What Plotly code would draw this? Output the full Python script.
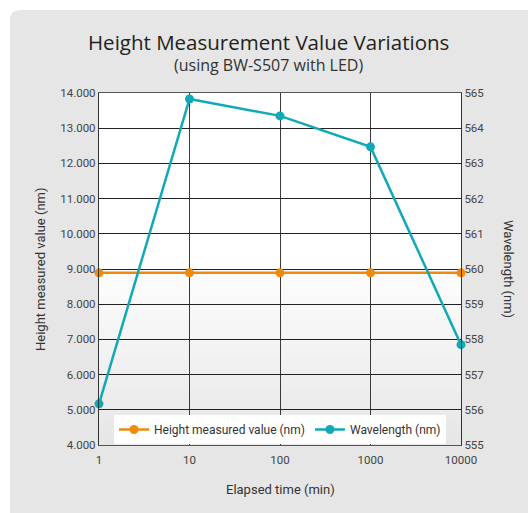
import plotly.graph_objects as go

# ---- data ----
elapsed_time = [1, 10, 100, 1000, 10000]
height_values = [8.89, 8.89, 8.89, 8.89, 8.89]
wavelength_values = [556.17, 564.83, 564.35, 563.47, 557.85]
left_ticks = [4, 5, 6, 7, 8, 9, 10, 11, 12, 13, 14]
left_tick_labels = ["4.000", "5.000", "6.000", "7.000", "8.000", "9.000",
                    "10.000", "11.000", "12.000", "13.000", "14.000"]
right_ticks = [555, 556, 557, 558, 559, 560, 561, 562, 563, 564, 565]
x_ticks = [1, 10, 100, 1000, 10000]
x_tick_labels = ["1", "10", "100", "1000", "10000"]

W, H = 528, 513
L, R, T, B = 99, 67, 93, 68
PW, PH = W - L - R, H - T - B

def px(x):
    return (x - L) / PW

def py(y):
    return (H - B - y) / PH

ORANGE = "#EF8A0B"
TEAL = "#10A9B8"
TICK_FONT = "Roboto, Liberation Sans, sans-serif"
TITLE_FONT = "Open Sans, Noto Sans, sans-serif"

fig = go.Figure()
fig.add_trace(go.Scatter(
    x=elapsed_time, y=height_values, name="Height measured value (nm)",
    mode="lines+markers", line=dict(color=ORANGE, width=2.5),
    marker=dict(color=ORANGE, size=9), cliponaxis=False, yaxis="y"))
fig.add_trace(go.Scatter(
    x=elapsed_time, y=wavelength_values, name="Wavelength (nm)",
    mode="lines+markers", line=dict(color=TEAL, width=2.5),
    marker=dict(color=TEAL, size=9), cliponaxis=False, yaxis="y2"))

shapes = []
# outer rounded grey panel
x0, y0, x1, y1, r = px(10), py(10), px(540), py(530), 10
rx, ry = r / PW, r / PH
shapes.append(dict(
    type="path", xref="paper", yref="paper", layer="below",
    path=(f"M {x0},{y0 - ry} Q {x0},{y0} {x0 + rx},{y0} L {x1},{y0} "
          f"L {x1},{y1} L {x0},{y1} Z"),
    fillcolor="#E5E6E5", line=dict(width=0)))
# plot area white background
shapes.append(dict(type="rect", xref="paper", yref="paper", layer="below",
                   x0=0, x1=1, y0=0, y1=1, fillcolor="white", line=dict(width=0)))
# gradient at bottom of plot area
n = 30
g_top = py(255)
for i in range(n):
    f0 = i / n
    f1 = (i + 1) / n
    t = 1 - (f0 + f1) / 2  # 1 at bottom
    c = int(round(255 - (255 - 230) * t))
    shapes.append(dict(type="rect", xref="paper", yref="paper", layer="below",
                       x0=0, x1=1, y0=g_top * f0, y1=g_top * f1 + 0.002,
                       fillcolor=f"rgb({c},{c},{c})", line=dict(width=0)))

def ann(text, x, y, font, angle=0):
    return dict(text=text, x=px(x), y=py(y), xref="paper", yref="paper",
                xanchor="center", yanchor="middle", showarrow=False,
                textangle=angle, font=font)

annotations = [
    ann("Height Measurement Value Variations", 268, 42,
        dict(family=TITLE_FONT, size=20.5, color="#231F20")),
    ann("(using BW-S507 with LED)", 268, 65,
        dict(family=TITLE_FONT, size=16, color="#333333")),
    ann("Height measured value (nm)", 40, 269,
        dict(family=TICK_FONT, size=13, color="#333333"), -90),
    ann("Wavelength (nm)", 509, 269,
        dict(family=TICK_FONT, size=13, color="#333333"), 90),
    ann("Elapsed time (min)", 280, 489,
        dict(family=TICK_FONT, size=13, color="#333333")),
]

fig.update_layout(
    width=W, height=H,
    margin=dict(l=L, r=R, t=T, b=B),
    paper_bgcolor="white", plot_bgcolor="rgba(0,0,0,0)",
    shapes=shapes, annotations=annotations,
    showlegend=True,
    legend=dict(orientation="h", x=px(114), y=py(415), xanchor="left", yanchor="top",
                bgcolor="white", font=dict(family=TICK_FONT, size=12, color="#333333"),
                itemwidth=30, tracegroupgap=0),
    xaxis=dict(type="log", range=[0, 4], tickvals=x_ticks, ticktext=x_tick_labels,
               showgrid=True, gridcolor="#3a3a3a", gridwidth=1,
               showline=True, linecolor="#555555", linewidth=1.2, mirror=True,
               ticks="", zeroline=False, ticklabelstandoff=4,
               tickfont=dict(family=TICK_FONT, size=11.5, color="#444444")),
    yaxis=dict(range=[4, 14], tickvals=left_ticks, ticktext=left_tick_labels,
               showgrid=True, gridcolor="#222222", gridwidth=1,
               showline=True, linecolor="#333333", linewidth=1.2,
               ticks="", zeroline=False,
               tickfont=dict(family=TICK_FONT, size=11.5, color="#444444")),
    yaxis2=dict(range=[555, 565], tickvals=right_ticks, overlaying="y", side="right",
                showgrid=False, showline=True, linecolor="#333333", linewidth=1.2,
                ticks="", zeroline=False,
                tickfont=dict(family=TICK_FONT, size=11.5, color="#444444")),
)

fig.write_html("out.html", config={"displayModeBar": False},
               post_script="document.body.style.margin='0';")
